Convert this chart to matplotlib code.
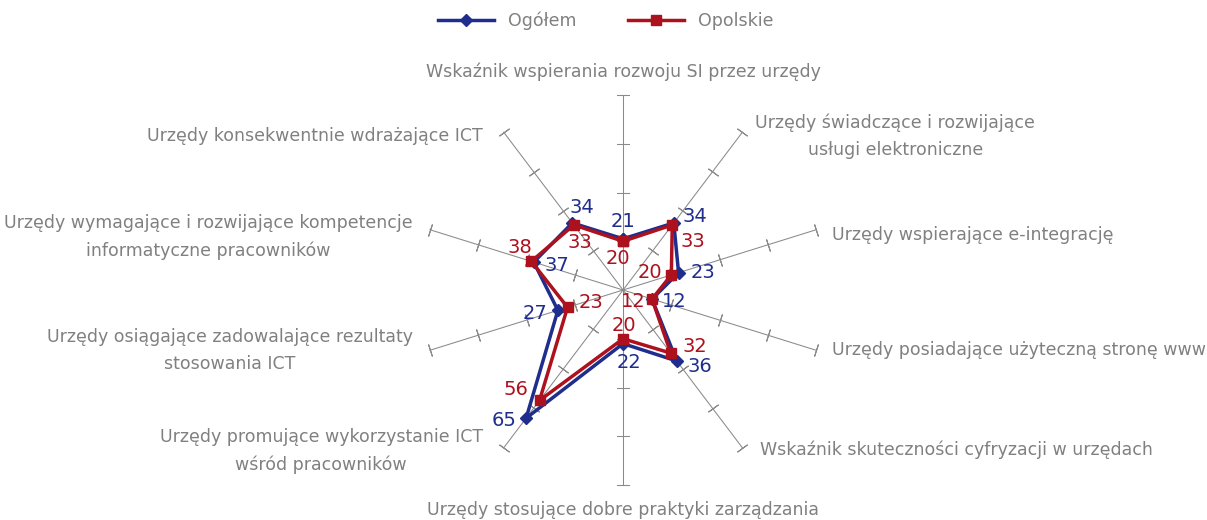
import numpy as np
import matplotlib
matplotlib.use("Agg")
import matplotlib.pyplot as plt

# categories clockwise from the top
categories = [
    "Wskaźnik wspierania rozwoju SI przez urzędy",
    "Urzędy świadczące i rozwijające\nusługi elektroniczne",
    "Urzędy wspierające e-integrację",
    "Urzędy posiadające użyteczną stronę www",
    "Wskaźnik skuteczności cyfryzacji w urzędach",
    "Urzędy stosujące dobre praktyki zarządzania",
    "Urzędy promujące wykorzystanie ICT\nwśród pracowników",
    "Urzędy osiągające zadowalające rezultaty\nstosowania ICT",
    "Urzędy wymagające i rozwijające kompetencje\ninformatyczne pracowników",
    "Urzędy konsekwentnie wdrażające ICT",
]
ogolem = [21, 34, 23, 12, 36, 22, 65, 27, 37, 34]
opolskie = [20, 33, 20, 12, 32, 20, 56, 23, 38, 33]
r_ticks = [20, 40, 60, 80]

BLUE = "#1f2d8c"
RED = "#ad111e"
GRAY = "#8a8a8a"
TXT = "#808080"

# label placement (pixels)
cat_off = [(0, 23), (13, -4), (16, -5), (16, 0), (18, -2),
           (0, -25), (-21, -3), (-17, 0), (-17, -7), (-21, -4)]
blue_off = [(0, 17), (21, 6), (24, 0), (22, -2), (23, -6),
            (6, -19), (-22, -2), (-23, -3), (23, -3), (10, 15)]
red_off = [(-5, -17), (21, -17), (-21, 2), (-19, -2), (24, 7),
           (1, 13), (-24, 11), (23, 5), (-11, 14), (6, -18)]

n = len(categories)
theta = np.arange(n) * 2 * np.pi / n
theta_c = np.append(theta, theta[0])

fig = plt.figure(figsize=(12.07, 5.20), dpi=100)
ax = fig.add_axes([0.348, 0.0673, 0.3364, 0.75], projection="polar")
ax.set_aspect("auto")
ax.set_theta_zero_location("N")
ax.set_theta_direction(-1)
ax.set_ylim(0, 80)
ax.grid(False)
ax.spines["polar"].set_visible(False)
ax.set_xticks([])
ax.set_yticks([])
ax.patch.set_alpha(0)

for t in theta:
    ax.plot([t, t], [0, 80], color=GRAY, lw=0.75, zorder=1, clip_on=False)
    # short tick segment perpendicular to the spoke
    ax.plot([t] * len(r_ticks), r_ticks, ls="none",
            marker=(2, 2, 90 - np.degrees(t)), ms=9, mew=0.75,
            color=GRAY, zorder=1, clip_on=False)

ax.plot(theta_c, np.append(ogolem, ogolem[0]), color=BLUE, lw=2.5,
        marker="D", ms=6.5, label="Ogółem", zorder=3, clip_on=False)
ax.plot(theta_c, np.append(opolskie, opolskie[0]), color=RED, lw=2.5,
        marker="s", ms=7.5, label="Opolskie", zorder=4, clip_on=False)

for i in range(n):
    ha = "center" if cat_off[i][0] == 0 else ("left" if cat_off[i][0] > 0 else "right")
    ax.annotate(categories[i], (theta[i], 80), xytext=cat_off[i],
                textcoords="offset pixels", ha=ha, va="center",
                multialignment="center", fontsize=12.5, color=TXT,
                linespacing=1.65, annotation_clip=False)
    ax.annotate(str(ogolem[i]), (theta[i], ogolem[i]), xytext=blue_off[i],
                textcoords="offset pixels", ha="center", va="center",
                fontsize=14, color=BLUE, zorder=5)
    ax.annotate(str(opolskie[i]), (theta[i], opolskie[i]), xytext=red_off[i],
                textcoords="offset pixels", ha="center", va="center",
                fontsize=14, color=RED, zorder=5)

fig.legend(loc="upper center", bbox_to_anchor=(0.502, 1.008), ncol=2,
           frameon=False, handlelength=3.2, columnspacing=3.0,
           fontsize=12.5, labelcolor=TXT)

fig.savefig("out.png", dpi=100)
